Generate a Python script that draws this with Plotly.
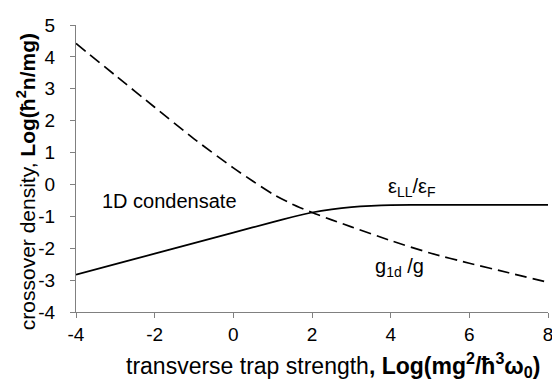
import plotly.graph_objects as go

# Solid curve: epsilon_LL / epsilon_F crossover
x_eps = [-4, -3, -2, -1, 0, 1, 1.5, 2, 2.5, 3, 3.5, 4, 5, 6, 7, 8]
y_eps = [-2.83, -2.50, -2.17, -1.84, -1.51, -1.18, -1.02, -0.88, -0.78, -0.71, -0.67, -0.65, -0.64, -0.64, -0.64, -0.64]

# Dashed curve: g_1d / g crossover
x_g = [-4, -3, -2, -1, 0, 0.5, 1, 1.5, 2, 2.5, 3, 4, 5, 6, 7, 8]
y_g = [4.42, 3.42, 2.42, 1.43, 0.52, 0.10, -0.30, -0.62, -0.88, -1.11, -1.33, -1.76, -2.15, -2.47, -2.77, -3.07]

x_ticks = [-4, -2, 0, 2, 4, 6, 8]
y_ticks = [-4, -3, -2, -1, 0, 1, 2, 3, 4, 5]

FONT = "Liberation Sans, Arial, sans-serif"

fig = go.Figure()
fig.add_trace(go.Scatter(x=x_eps, y=y_eps, mode="lines",
                         line=dict(color="black", width=1.7, shape="spline", smoothing=0.6),
                         showlegend=False))
fig.add_trace(go.Scatter(x=x_g, y=y_g, mode="lines",
                         line=dict(color="black", width=1.7, dash="12px,6px", shape="spline", smoothing=0.6),
                         showlegend=False))

fig.add_annotation(x=-3.38, y=-0.53, text="1D condensate", showarrow=False,
                   xanchor="left", font=dict(size=20, color="black", family=FONT))
fig.add_annotation(x=4.55, y=-0.08, text="ε<sub>LL</sub>/ε<sub>F</sub>", showarrow=False,
                   font=dict(size=20, color="black", family=FONT))
fig.add_annotation(x=4.23, y=-2.6, text="g<sub>1d</sub> /g", showarrow=False,
                   font=dict(size=20, color="black", family=FONT))

# Axis titles
fig.add_annotation(xref="paper", yref="paper", x=0.545, y=-0.186,
                   text="transverse trap strength<b>, Log(mg<sup>2</sup>/ħ<sup>3</sup>ω<sub>0</sub>)</b>",
                   showarrow=False, xanchor="center", yanchor="middle",
                   font=dict(size=23, color="black", family=FONT))
fig.add_annotation(xref="paper", yref="paper", x=-0.107, y=0.454, textangle=-90,
                   text="crossover density, <b>Log(ħ<sup>2</sup>n/mg)</b>",
                   showarrow=False, xanchor="center", yanchor="middle",
                   font=dict(size=21, color="black", family=FONT))

# The page adds an 8px body margin, so the figure is sized/offset to compensate.
fig.update_layout(
    width=552, height=373,
    margin=dict(l=68, r=7, t=8, b=69),
    paper_bgcolor="white", plot_bgcolor="white",
    font=dict(family=FONT, size=19, color="black"),
    xaxis=dict(range=[-4, 8], tickvals=x_ticks, ticktext=[str(v) for v in x_ticks],
               showgrid=False, zeroline=False, showline=True, linecolor="#808080", linewidth=1.3,
               ticks="outside", ticklen=5, tickcolor="#808080", tickfont=dict(size=19),
               ticklabeloverflow="allow"),
    yaxis=dict(range=[-4, 5], tickvals=y_ticks, ticktext=[str(v) for v in y_ticks],
               showgrid=False, zeroline=False, showline=True, linecolor="#808080", linewidth=1.3,
               ticks="outside", ticklen=5, tickcolor="#808080", tickfont=dict(size=19),
               ticklabelstandoff=11, ticklabeloverflow="allow"),
)

fig.write_html("out.html")
